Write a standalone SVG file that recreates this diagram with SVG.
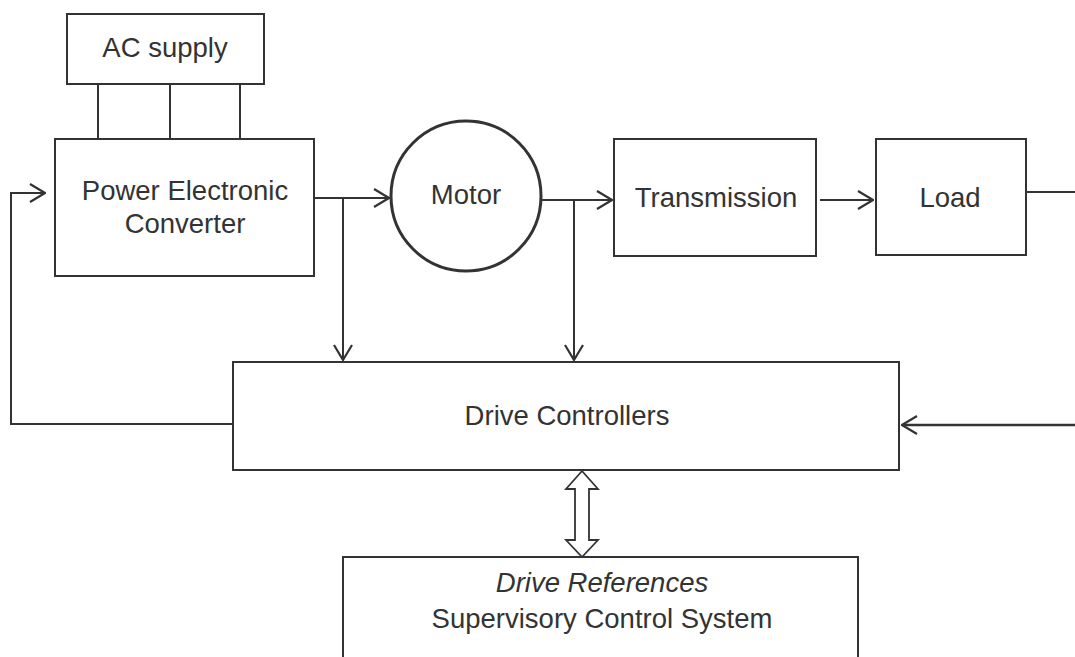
<svg xmlns="http://www.w3.org/2000/svg" width="1075" height="657" viewBox="0 0 1075 657">
<defs>
<style>
.box{fill:#fff;stroke:#333;stroke-width:2}
.ln{fill:none;stroke:#333;stroke-width:2}
.t{font-family:"Liberation Sans",Arial,sans-serif;font-size:27.5px;fill:#333;text-anchor:middle}
</style>
<marker id="ah" viewBox="0 0 18 22" refX="17" refY="11" markerWidth="18" markerHeight="22" markerUnits="userSpaceOnUse" orient="auto">
<path d="M2,2 L17,11 L2,20" fill="none" stroke="#333" stroke-width="2.2"/>
</marker>
</defs>
<rect width="1075" height="657" fill="#fff"/>
<g id="connectors">
<line class="ln" x1="98" y1="84" x2="98" y2="139"/>
<line class="ln" x1="170" y1="84" x2="170" y2="139"/>
<line class="ln" x1="240" y1="84" x2="240" y2="139"/>
<line class="ln" x1="314" y1="198" x2="389" y2="198" marker-end="url(#ah)"/>
<line class="ln" x1="343" y1="198" x2="343" y2="360" marker-end="url(#ah)"/>
<line class="ln" x1="542" y1="200" x2="612" y2="200" marker-end="url(#ah)"/>
<line class="ln" x1="574" y1="200" x2="574" y2="360" marker-end="url(#ah)"/>
<line class="ln" x1="820" y1="200" x2="873" y2="200" marker-end="url(#ah)"/>
<line class="ln" x1="1026" y1="192" x2="1075" y2="192"/>
<line class="ln" x1="1075" y1="425" x2="902" y2="425" marker-end="url(#ah)" style="stroke-width:2.6"/>
<polyline class="ln" points="237,424 11,424 11,193 45,193" marker-end="url(#ah)"/>
<path d="M582,471 L598,489 L589,489 L589,540 L598,540 L582,557 L566,540 L575,540 L575,489 L566,489 Z" fill="#fff" stroke="#333" stroke-width="1.8" stroke-linejoin="miter"/>
</g>
<g id="ac-supply">
<rect class="box" x="67" y="14" width="197" height="70"/>
<text class="t" x="165" y="57">AC supply</text>
</g>
<g id="converter">
<rect class="box" x="55" y="139" width="259" height="137"/>
<text class="t" x="185" y="200">Power Electronic</text>
<text class="t" x="185" y="233">Converter</text>
</g>
<g id="motor">
<circle cx="466" cy="196" r="75" fill="#fff" stroke="#333" stroke-width="3"/>
<text class="t" x="466" y="204">Motor</text>
</g>
<g id="transmission">
<rect class="box" x="614" y="139" width="202" height="117"/>
<text class="t" x="716" y="207">Transmission</text>
</g>
<g id="load">
<rect class="box" x="876" y="139" width="150" height="116"/>
<text class="t" x="950" y="207">Load</text>
</g>
<g id="drive-controllers">
<rect class="box" x="233" y="362" width="666" height="108"/>
<text class="t" x="567" y="425">Drive Controllers</text>
</g>
<g id="supervisory">
<rect class="box" x="343" y="557" width="515" height="110"/>
<text class="t" x="602" y="592" font-style="italic">Drive References</text>
<text class="t" x="602" y="628">Supervisory Control System</text>
</g>
</svg>
